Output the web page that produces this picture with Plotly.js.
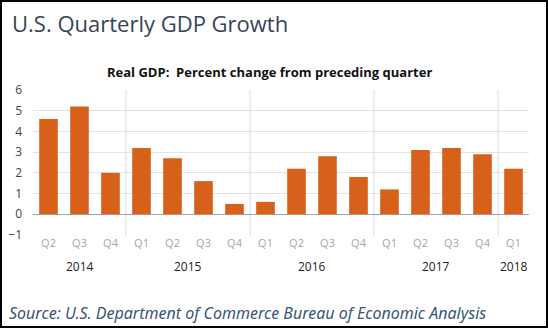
<!DOCTYPE html>
<html>
<head>
<meta charset="utf-8">
<script src="https://cdn.plot.ly/plotly-3.0.1.min.js"></script>
<style>
html,body{margin:0;padding:0;background:#fff;}
#chart{width:544px;height:324px;border:2px solid #000;}
</style>
</head>
<body>
<div id="chart"></div>
<script>
var quarters = ["Q2","Q3","Q4","Q1","Q2","Q3","Q4","Q1","Q2","Q3","Q4","Q1","Q2","Q3","Q4","Q1"];
var years = ["2014","2014","2014","2015","2015","2015","2015","2016","2016","2016","2016","2017","2017","2017","2017","2018"];
var growth = [4.6, 5.2, 2.0, 3.2, 2.7, 1.6, 0.5, 0.6, 2.2, 2.8, 1.8, 1.2, 3.1, 3.2, 2.9, 2.2];

var W = 544, H = 324;
var idx = quarters.map(function(q, i){ return i; });

// year groups
var groups = [];
years.forEach(function(y, i){
  var g = groups[groups.length - 1];
  if (!g || g.year !== y) { groups.push({year: y, start: i, end: i}); }
  else { g.end = i; }
});

var annotations = groups.map(function(g){
  return {
    text: g.year, x: (g.start + g.end) / 2, xref: 'x', y: 0, yref: 'paper',
    yanchor: 'middle', yshift: -31, showarrow: false,
    font: {family: 'Open Sans, sans-serif', size: 12, color: '#222'}
  };
});
annotations.push({
  text: 'Real GDP:\u00a0 Percent change from preceding quarter',
  x: 0.476, xref: 'paper', xanchor: 'center', y: 1, yref: 'paper', yanchor: 'middle', yshift: 18,
  showarrow: false, font: {family: 'Open Sans, sans-serif', size: 13, color: '#111', weight: 700}
});
annotations.push({
  text: '<i>Source: U.S. Department of Commerce Bureau of Economic Analysis</i>',
  x: -0.052, xref: 'paper', xanchor: 'left', y: 0, yref: 'paper', yanchor: 'middle', yshift: -78,
  showarrow: false, font: {family: 'Noto Sans, sans-serif', size: 16, color: '#3a557a'}
});

var shapes = groups.slice(1).map(function(g){
  return {type: 'line', xref: 'x', yref: 'paper', x0: g.start - 0.5, x1: g.start - 0.5, y0: 0, y1: 1,
          line: {color: '#d9d9d9', width: 1}, layer: 'below'};
});

var data = [{
  type: 'bar', x: idx, y: growth, width: 0.6,
  marker: {color: '#d7601a'}, hoverinfo: 'y'
}];

var layout = {
  width: W, height: H,
  margin: {l: 31, r: 17, t: 88, b: 91},
  paper_bgcolor: '#fff', plot_bgcolor: '#fff',
  showlegend: false,
  title: {text: 'U.S. Quarterly GDP Growth', xref: 'container', x: 10 / W, xanchor: 'left',
          yref: 'container', y: 1 - 22 / H, yanchor: 'middle',
          font: {family: 'Open Sans, sans-serif', size: 22, color: '#36445a', weight: 500}},
  xaxis: {range: [-0.5, idx.length - 0.5], tickmode: 'array', tickvals: idx, ticktext: quarters,
          showgrid: false, zeroline: false, showline: false, ticks: '', fixedrange: true,
          tickfont: {family: 'Open Sans, sans-serif', size: 11, color: '#a6a6a6'}},
  yaxis: {range: [-1, 6], dtick: 1, tick0: 0, showgrid: true, gridcolor: '#e3e3e3', gridwidth: 1,
          zeroline: true, zerolinecolor: '#a6a6a6', zerolinewidth: 1.2, showline: false, ticks: '',
          ticklabelstandoff: 10, fixedrange: true,
          tickfont: {family: 'Open Sans, sans-serif', size: 12, color: '#444'}},
  annotations: annotations,
  shapes: shapes
};

Plotly.newPlot('chart', data, layout, {displayModeBar: false, staticPlot: true});
</script>
</body>
</html>
